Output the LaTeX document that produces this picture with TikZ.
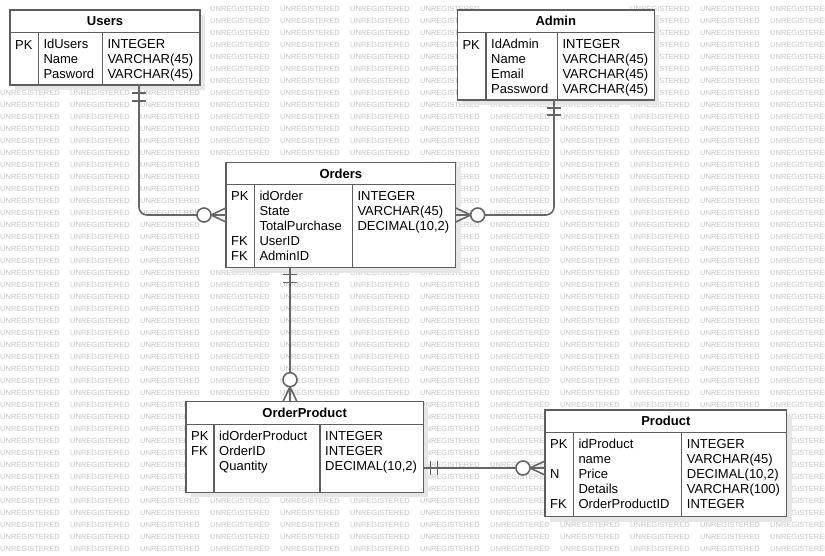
\documentclass[tikz,border=0pt]{standalone}
\usepackage{fontspec}
\setmainfont{Liberation Sans}
\usepackage{xcolor}
\usepackage{tikz}
\usetikzlibrary{positioning,shadows}

\definecolor{boxgray}{HTML}{5E5E5E}
\definecolor{linkgray}{HTML}{666666}
\definecolor{wmgray}{HTML}{C4C4C4}
\definecolor{shadowgray}{HTML}{E6E6E6}

\begin{document}
\begin{tikzpicture}[
    x=1pt, y=-1pt,
    entity/.style={
        draw=boxgray,
        line width=1.5pt,
        fill=white,
        anchor=north west,
        inner sep=0pt,
        outer sep=0pt,
        general shadow={fill=shadowgray, shadow xshift=5pt, shadow yshift=-5pt}
    },
    title/.style={font=\bfseries\fontsize{13}{15}\selectfont, minimum height=22pt, inner sep=0pt},
    field/.style={anchor=north west, inner sep=0pt, align=left,
        font=\fontsize{13}{15}\selectfont, execute at begin node=\strut},
    divider/.style={draw=boxgray, line width=1.5pt},
    rel/.style={draw=linkgray, line width=1.6pt},
    watermark/.style={anchor=west, inner sep=0pt, text=wmgray, font=\fontsize{7.5}{8}\selectfont}
]

\fill[white] (0,0) rectangle (825,556);
\useasboundingbox (0,0) rectangle (825,556);

% background stamp, left out where a table hides it
\foreach \row in {0,...,45}
  \foreach \col in {0,...,11} {
    \pgfmathsetmacro{\wx}{70*\col}
    \pgfmathsetmacro{\wy}{9.3+12*\row}
    \pgfmathtruncatemacro{\covered}{
        (\wy+4>10)*(\wy-4<85)*(min(\wx+63,200)-max(\wx,10)>45)
      + (\wy+4>10)*(\wy-4<100)*(min(\wx+63,654.3)-max(\wx,457.3)>45)
      + (\wy+4>162.3)*(\wy-4<267.7)*(min(\wx+63,455.7)-max(\wx,226)>45)
      + (\wy+4>401.7)*(\wy-4<492.3)*(min(\wx+63,423.3)-max(\wx,186)>45)
      + (\wy+4>410)*(\wy-4<516.7)*(min(\wx+63,786.7)-max(\wx,545)>45)}
    \ifnum\covered=0
      \node[watermark] (wm-\row-\col) at (\wx,\wy) {UNREGISTERED};
    \fi
  }

% Users
\node[entity, minimum width=190, minimum height=75] (users) at (10,10) {};
\node[title, below=0pt of users.north] (users-title) {Users};
\coordinate (users-c0) at ([shift={(0,22.3)}]users.north west);
\coordinate (users-c1) at ([shift={(28.3,22.3)}]users.north west);
\coordinate (users-c2) at ([shift={(92.3,22.3)}]users.north west);
\draw[divider] (users-c0) -- (users-c0 -| users.east);
\draw[divider] (users-c1) -- (users-c1 |- users.south);
\draw[divider] (users-c2) -- (users-c2 |- users.south);
\node[field] (users-keys) at ([shift={(5,6.8)}]users-c0) {PK};
\node[field] (users-names) at ([shift={(5,6.8)}]users-c1) {IdUsers\\Name\\Pasword};
\node[field] (users-types) at ([shift={(5,6.8)}]users-c2) {INTEGER\\VARCHAR(45)\\VARCHAR(45)};

% Admin
\node[entity, minimum width=197, minimum height=90] (admin) at (457.3,10) {};
\node[title, below=0pt of admin.north] (admin-title) {Admin};
\coordinate (admin-c0) at ([shift={(0,22.3)}]admin.north west);
\coordinate (admin-c1) at ([shift={(28.7,22.3)}]admin.north west);
\coordinate (admin-c2) at ([shift={(100,22.3)}]admin.north west);
\draw[divider] (admin-c0) -- (admin-c0 -| admin.east);
\draw[divider] (admin-c1) -- (admin-c1 |- admin.south);
\draw[divider] (admin-c2) -- (admin-c2 |- admin.south);
\node[field] (admin-keys) at ([shift={(5,6.8)}]admin-c0) {PK};
\node[field] (admin-names) at ([shift={(5,6.8)}]admin-c1) {IdAdmin\\Name\\Email\\Password};
\node[field] (admin-types) at ([shift={(5,6.8)}]admin-c2) {INTEGER\\VARCHAR(45)\\VARCHAR(45)\\VARCHAR(45)};

% Orders
\node[entity, minimum width=229.7, minimum height=105.4] (orders) at (226,162.3) {};
\node[title, below=0pt of orders.north] (orders-title) {Orders};
\coordinate (orders-c0) at ([shift={(0,22)}]orders.north west);
\coordinate (orders-c1) at ([shift={(28.3,22)}]orders.north west);
\coordinate (orders-c2) at ([shift={(126.3,22)}]orders.north west);
\draw[divider] (orders-c0) -- (orders-c0 -| orders.east);
\draw[divider] (orders-c1) -- (orders-c1 |- orders.south);
\draw[divider] (orders-c2) -- (orders-c2 |- orders.south);
\node[field] (orders-keys) at ([shift={(5,6.8)}]orders-c0) {PK\\ \\ \\FK\\FK};
\node[field] (orders-names) at ([shift={(5,6.8)}]orders-c1) {idOrder\\State\\TotalPurchase\\UserID\\AdminID};
\node[field] (orders-types) at ([shift={(5,6.8)}]orders-c2) {INTEGER\\VARCHAR(45)\\DECIMAL(10,2)};

% OrderProduct
\node[entity, minimum width=237.3, minimum height=90.6] (ordprod) at (186,401.7) {};
\node[title, below=0pt of ordprod.north] (ordprod-title) {OrderProduct};
\coordinate (ordprod-c0) at ([shift={(0,22.6)}]ordprod.north west);
\coordinate (ordprod-c1) at ([shift={(28,22.6)}]ordprod.north west);
\coordinate (ordprod-c2) at ([shift={(134,22.6)}]ordprod.north west);
\draw[divider] (ordprod-c0) -- (ordprod-c0 -| ordprod.east);
\draw[divider] (ordprod-c1) -- (ordprod-c1 |- ordprod.south);
\draw[divider] (ordprod-c2) -- (ordprod-c2 |- ordprod.south);
\node[field] (ordprod-keys) at ([shift={(5,6.8)}]ordprod-c0) {PK\\FK};
\node[field] (ordprod-names) at ([shift={(5,6.8)}]ordprod-c1) {idOrderProduct\\OrderID\\Quantity};
\node[field] (ordprod-types) at ([shift={(5,6.8)}]ordprod-c2) {INTEGER\\INTEGER\\DECIMAL(10,2)};

% Product
\node[entity, minimum width=241.7, minimum height=106.7] (product) at (545,410) {};
\node[title, below=0pt of product.north] (product-title) {Product};
\coordinate (product-c0) at ([shift={(0,22.3)}]product.north west);
\coordinate (product-c1) at ([shift={(28.3,22.3)}]product.north west);
\coordinate (product-c2) at ([shift={(136.7,22.3)}]product.north west);
\draw[divider] (product-c0) -- (product-c0 -| product.east);
\draw[divider] (product-c1) -- (product-c1 |- product.south);
\draw[divider] (product-c2) -- (product-c2 |- product.south);
\node[field] (product-keys) at ([shift={(5,6.8)}]product-c0) {PK\\ \\N\\ \\FK};
\node[field] (product-names) at ([shift={(5,6.8)}]product-c1) {idProduct\\name\\Price\\Details\\OrderProductID};
\node[field] (product-types) at ([shift={(5,6.8)}]product-c2) {INTEGER\\VARCHAR(45)\\DECIMAL(10,2)\\VARCHAR(100)\\INTEGER};

% Users -> Orders
\coordinate (users-out) at ([shift={(129,0)}]users.south west);
\draw[rel, rounded corners=8pt] (users-out) |- (orders.west);
\draw[rel] ([shift={(-7,8)}]users-out) -- ++(14,0);
\draw[rel] ([shift={(-7,16)}]users-out) -- ++(14,0);
\draw[rel] ([shift={(-15,0)}]orders.west) -- ([shift={(0,-7)}]orders.west);
\draw[rel] ([shift={(-15,0)}]orders.west) -- ([shift={(0,7)}]orders.west);
\draw[rel, fill=white] ([shift={(-22,0)}]orders.west) circle (7pt);

% Admin -> Orders
\coordinate (admin-out) at ([shift={(96.7,0)}]admin.south west);
\draw[rel, rounded corners=8pt] (admin-out) |- (orders.east);
\draw[rel] ([shift={(-7,8)}]admin-out) -- ++(14,0);
\draw[rel] ([shift={(-7,15)}]admin-out) -- ++(14,0);
\draw[rel] ([shift={(15,0)}]orders.east) -- ([shift={(0,-7)}]orders.east);
\draw[rel] ([shift={(15,0)}]orders.east) -- ([shift={(0,7)}]orders.east);
\draw[rel, fill=white] ([shift={(22,0)}]orders.east) circle (7pt);

% Orders -> OrderProduct
\coordinate (orders-out) at ([shift={(64,0)}]orders.south west);
\coordinate (ordprod-in) at (orders-out |- ordprod.north);
\draw[rel] (orders-out) -- (ordprod-in);
\draw[rel] ([shift={(-7,7)}]orders-out) -- ++(14,0);
\draw[rel] ([shift={(-7,15)}]orders-out) -- ++(14,0);
\draw[rel] ([shift={(0,-15)}]ordprod-in) -- ([shift={(-7,0)}]ordprod-in);
\draw[rel] ([shift={(0,-15)}]ordprod-in) -- ([shift={(7,0)}]ordprod-in);
\draw[rel, fill=white] ([shift={(0,-22)}]ordprod-in) circle (7pt);

% OrderProduct -> Product
\coordinate (ordprod-out) at ([shift={(0,21)}]ordprod.east);
\coordinate (product-in) at (ordprod-out -| product.west);
\draw[rel] (ordprod-out) -- (product-in);
\draw[rel] ([shift={(7,-7)}]ordprod-out) -- ++(0,14);
\draw[rel] ([shift={(14,-7)}]ordprod-out) -- ++(0,14);
\draw[rel] ([shift={(-15,0)}]product-in) -- ([shift={(0,-7)}]product-in);
\draw[rel] ([shift={(-15,0)}]product-in) -- ([shift={(0,7)}]product-in);
\draw[rel, fill=white] ([shift={(-22,0)}]product-in) circle (7pt);

\end{tikzpicture}
\end{document}
